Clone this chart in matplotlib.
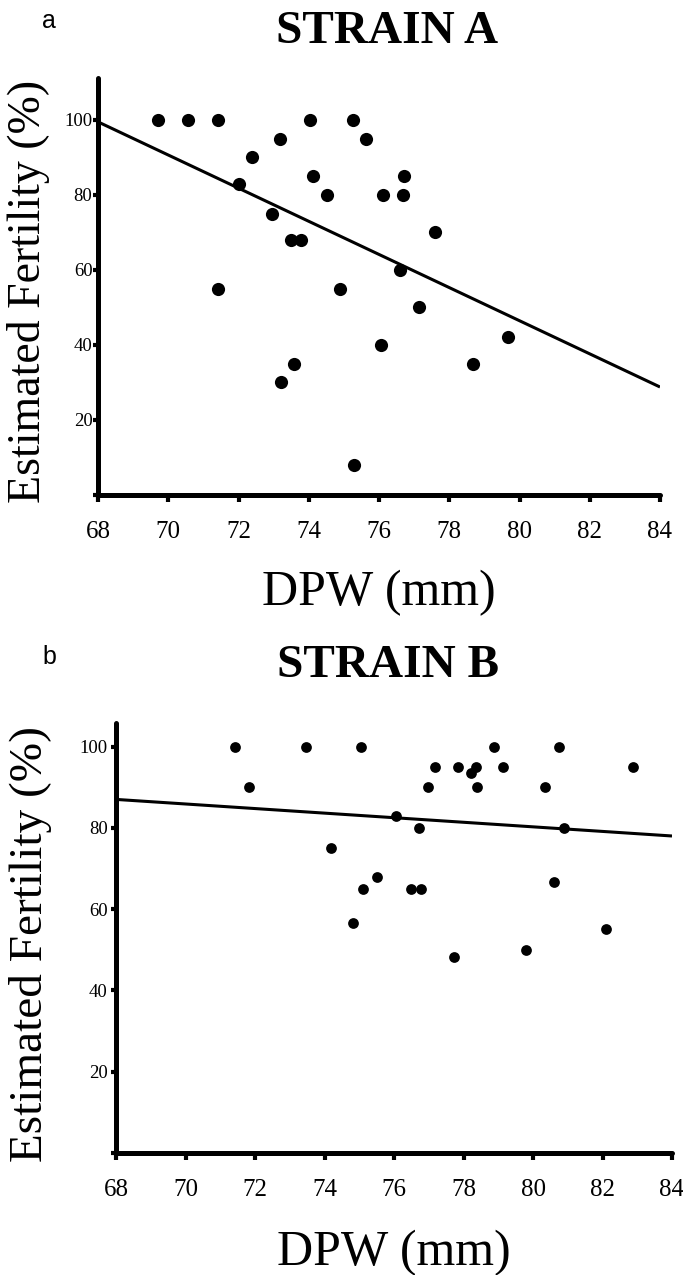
import matplotlib
matplotlib.use("Agg")
import matplotlib.pyplot as plt

# ---------------- data ----------------
a_dpw = [69.70, 70.55, 71.42, 74.03, 75.27, 73.18, 75.64, 72.39, 72.01, 74.12,
         76.72, 74.53, 76.12, 76.67, 72.94, 73.50, 73.77, 76.59, 77.59, 71.42,
         74.89, 77.13, 76.06, 73.58, 73.21, 75.28, 79.66, 78.68]
a_fert = [100, 100, 100, 100, 100, 95, 95, 90, 83, 85,
          85, 80, 80, 80, 75, 68, 68, 60, 70, 55,
          55, 50, 40, 35, 30, 8, 42, 35]
a_line_x = [68, 84]
a_line_y = [99.5, 28.8]

b_dpw = [71.43, 73.47, 75.04, 78.87, 80.76, 71.84, 77.17, 77.83, 78.36, 78.21,
         79.15, 82.87, 76.97, 78.39, 80.35, 76.05, 76.72, 80.89, 74.20, 75.50,
         75.12, 76.48, 76.78, 80.60, 74.81, 82.09, 77.73, 79.81]
b_fert = [100, 100, 100, 100, 100, 90, 95, 95, 95, 93.5,
          95, 95, 90, 90, 90, 83, 80, 80, 75, 68,
          65, 65, 65, 66.7, 56.7, 55, 48.3, 50]
b_line_x = [68, 84]
b_line_y = [87.0, 78.0]

x_ticks = [68, 70, 72, 74, 76, 78, 80, 82, 84]
y_ticks = [0, 20, 40, 60, 80, 100]
y_ticklabels = ["", "20", "40", "60", "80", "100"]

titles = ["STRAIN A", "STRAIN B"]
panel_letters = ["a", "b"]
xlabel = "DPW (mm)"
ylabel = "Estimated Fertility (%)"

SERIF = "Liberation Serif"
SANS = "Liberation Sans"

W, H = 683, 1275
fig = plt.figure(figsize=(W / 100, H / 100), dpi=100)


def px_rect(left, top, right, bottom):
    return [left / W, 1 - bottom / H, (right - left) / W, (bottom - top) / H]


def style_axes(ax, ytop, ypad, ms_area, xs, ys, lx, ly, ylab_x, ylab_y,
               ylab_size, xlab_y):
    ax.scatter(xs, ys, s=ms_area, color="black", zorder=3, linewidths=0)
    ax.plot(lx, ly, color="black", lw=2.2, solid_capstyle="butt", zorder=2)
    ax.set_xlim(68, 84)
    ax.set_ylim(0, ytop)
    for side in ("top", "right"):
        ax.spines[side].set_visible(False)
    for side in ("left", "bottom"):
        ax.spines[side].set_linewidth(3.6)
        ax.spines[side].set_capstyle("round")
    ax.set_xticks(x_ticks)
    ax.set_xticklabels([str(t) for t in x_ticks], family=SERIF, fontsize=18)
    ax.set_yticks(y_ticks)
    ax.set_yticklabels(y_ticklabels, family=SERIF, fontsize=13.5)
    ax.tick_params(axis="x", direction="out", length=5, width=3, pad=14)
    ax.tick_params(axis="y", direction="out", length=3.5, width=3, pad=ypad)
    ax.set_xlabel(xlabel, family=SERIF, fontsize=36, va="baseline")
    ax.xaxis.set_label_coords(0.5, xlab_y)
    ax.set_ylabel(ylabel, family=SERIF, fontsize=ylab_size)
    ax.yaxis.set_label_coords(ylab_x, ylab_y)
    ax.set_facecolor("none")


# Panel A
axA = fig.add_axes(px_rect(98, 78, 660, 495))
style_axes(axA, 111.2, 0.5, 90, a_dpw, a_fert, a_line_x, a_line_y,
           ylab_x=-(98 - 50) / (660 - 98), ylab_y=(495 - 291.5) / (495 - 78),
           ylab_size=33, xlab_y=-(605 - 495) / (495 - 78))

# Panel B
axB = fig.add_axes(px_rect(116, 723, 672, 1153))
style_axes(axB, 105.8, 2.5, 60, b_dpw, b_fert, b_line_x, b_line_y,
           ylab_x=-(116 - 52) / (672 - 116), ylab_y=(1153 - 944) / (1153 - 723),
           ylab_size=34, xlab_y=-(1265 - 1153) / (1153 - 723))

# Titles and panel letters
fig.text(387 / W, 1 - 43 / H, titles[0], ha="center", va="baseline",
         family=SERIF, fontsize=34, fontweight="bold")
fig.text(388 / W, 1 - 677 / H, titles[1], ha="center", va="baseline",
         family=SERIF, fontsize=34, fontweight="bold")
fig.text(42 / W, 1 - 28 / H, panel_letters[0], ha="left", va="baseline",
         family=SANS, fontsize=18)
fig.text(42 / W, 1 - 664 / H, panel_letters[1], ha="left", va="baseline",
         family=SANS, fontsize=18)

fig.savefig("out.png", dpi=100, facecolor="white")
